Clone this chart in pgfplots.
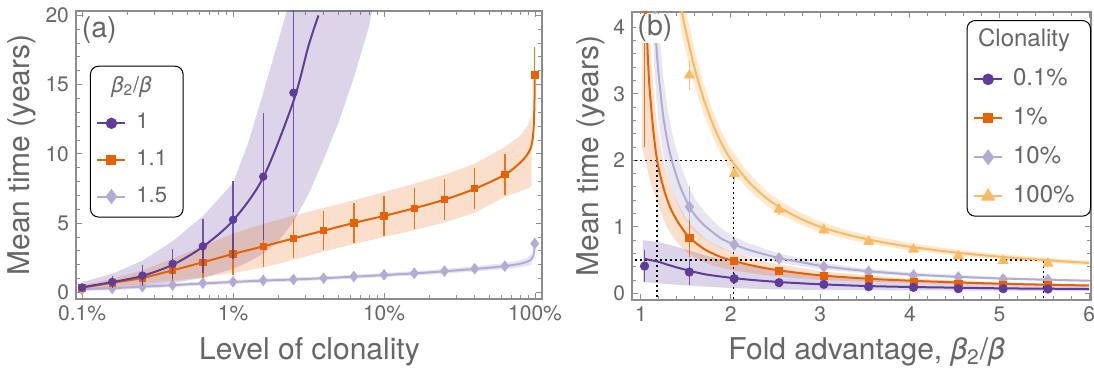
\documentclass[border=0pt]{standalone}
\usepackage{fontspec}
\setmainfont{TeX Gyre Heros}
\usepackage{pgfplots}
\pgfplotsset{compat=1.18}
\definecolor{cDP}{HTML}{5E3C99}
\definecolor{cO}{HTML}{E66101}
\definecolor{cLP}{HTML}{B2ABD2}
\definecolor{cLO}{HTML}{FDB863}
\definecolor{tgray}{gray}{0.4}
\definecolor{agray}{gray}{0.55}
\pgfplotsset{
  myaxis/.style={
    scale only axis, height=144pt,
    axis line style={agray, line width=0.6pt},
    tick style={agray, line width=0.5pt},
    major tick length=3.2pt, minor tick length=1.8pt,
    tick label style={font=\fontsize{10.5}{12}\selectfont, text=tgray},
    label style={font=\fontsize{15}{18}\selectfont, text=tgray},
    /pgf/number format/assume math mode=true,
    clip marker paths=true,
    legend cell align=left,
    legend image code/.code={\draw[mark repeat=2,mark phase=2,##1] plot coordinates {(0pt,0pt) (7pt,0pt) (14pt,0pt)};},
  },
  ebar/.style={error bars/.cd, y dir=both, y explicit, error mark=none, error bar style={line width=0.7pt, opacity=0.85}},
  guide/.style={forget plot, black, dash pattern=on 1pt off 1.5pt, line width=0.75pt},
}
\begin{document}
\begin{tikzpicture}
\path[use as bounding box] (-38pt,-35pt) rectangle (509pt,149.5pt);
% ================= LEFT PANEL =================
\begin{axis}[myaxis, at={(0pt,0pt)}, anchor=south west, width=233pt,
  xmode=log, xmin=0.000912, xmax=1.112, ymin=-0.47, ymax=20.32,
  xtick={0.001,0.01,0.1,1}, xticklabels={0.1\%,1\%,10\%,100\%},
  minor xtick={0.002,0.003,0.004,0.005,0.006,0.007,0.008,0.009,0.02,0.03,0.04,0.05,0.06,0.07,0.08,0.09,0.2,0.3,0.4,0.5,0.6,0.7,0.8,0.9},
  ytick={0,5,10,15,20}, minor ytick={1,2,3,4,6,7,8,9,11,12,13,14,16,17,18,19},
  xlabel={Level of clonality}, ylabel={Mean time (years)},
  xlabel style={at={(axis description cs:0.501,-0.184)}, anchor=center},
  ylabel style={at={(axis description cs:-0.116,0.5)}, anchor=center},
  legend style={at={(axis description cs:0.03,0.81)}, anchor=north west, draw=black, line width=0.5pt, rounded corners=4pt, fill=white, font=\fontsize{11}{13}\selectfont, text=tgray, row sep=7.8pt, inner xsep=3pt, inner ysep=5pt, nodes={inner xsep=5pt, inner ysep=0pt, text height=8pt, text depth=2.5pt}},
]
% purple band
\addplot[forget plot, fill=cDP, fill opacity=0.22, draw=none] coordinates {
(0.001,0.75) (0.001585,1.35) (0.002512,2.3) (0.003981,3.7) (0.00631,5.5) (0.01,7.9) (0.01259,10.8) (0.01585,14.4) (0.01995,18.2) (0.02512,22)
(0.0891,22) (0.07943,19.2) (0.0631,15.5) (0.05012,12.3) (0.03981,9.6) (0.03162,7.1) (0.02512,5.1) (0.01995,3.7) (0.01585,2.8) (0.01259,2.2) (0.01,1.7) (0.00631,1.05) (0.003981,0.7) (0.002512,0.45) (0.001585,0.25) (0.001,0.12)};
% orange band
\addplot[forget plot, fill=cO, fill opacity=0.2, draw=none] coordinates {
(0.001,0.5) (0.001585,1.0) (0.002512,1.6) (0.003981,2.45) (0.00631,3.35) (0.01,4.25) (0.01585,4.95) (0.02512,5.55) (0.03981,6.1) (0.0631,6.65) (0.1,7.25) (0.1585,7.85) (0.2512,8.5) (0.3981,9.3) (0.631,10.5) (0.7943,11.3) (0.8913,12.0) (0.95,12.8)
(0.95,7.7) (0.8913,7.5) (0.7943,7.3) (0.631,6.9) (0.3981,5.75) (0.2512,5.05) (0.1585,4.5) (0.1,4.0) (0.0631,3.5) (0.03981,2.95) (0.02512,2.35) (0.01585,1.8) (0.01,1.4) (0.00631,1.1) (0.003981,0.85) (0.002512,0.6) (0.001585,0.42) (0.001,0.2)};
% light purple band
\addplot[forget plot, fill=cLP, fill opacity=0.32, draw=none] coordinates {
(0.001,0.4) (0.001585,0.46) (0.002512,0.56) (0.003981,0.67) (0.00631,0.79) (0.01,0.9) (0.01585,1.0) (0.02512,1.08) (0.03981,1.17) (0.0631,1.28) (0.1,1.41) (0.1585,1.54) (0.2512,1.7) (0.3981,1.89) (0.631,2.12) (0.7943,2.32) (0.8913,2.5) (0.95,2.85)
(0.95,2.0) (0.8913,1.92) (0.7943,1.82) (0.631,1.68) (0.3981,1.51) (0.2512,1.36) (0.1585,1.22) (0.1,1.11) (0.0631,1.0) (0.03981,0.89) (0.02512,0.8) (0.01585,0.72) (0.01,0.62) (0.00631,0.51) (0.003981,0.39) (0.002512,0.28) (0.001585,0.17) (0.001,0.12)};
% lines
\addplot[forget plot, cLP, line width=1pt, smooth] coordinates {
(0.001,0.25) (0.001585,0.31) (0.002512,0.42) (0.003981,0.53) (0.00631,0.65) (0.01,0.76) (0.01585,0.86) (0.02512,0.94) (0.03981,1.03) (0.0631,1.14) (0.1,1.26) (0.1585,1.38) (0.2512,1.53) (0.3981,1.7) (0.631,1.9) (0.8,2.08) (0.9,2.25) (0.95,2.42) (0.975,2.65) (0.99,3.1) (0.995,3.5)};
\addplot[forget plot, cO, line width=1pt, smooth] coordinates {
(0.001,0.35) (0.001585,0.7) (0.002512,1.05) (0.003981,1.6) (0.00631,2.18) (0.01,2.78) (0.01585,3.33) (0.02512,3.9) (0.03981,4.46) (0.0631,5.02) (0.1,5.53) (0.1585,6.08) (0.2512,6.7) (0.3981,7.48) (0.631,8.5) (0.794,9.35) (0.88,9.9) (0.927,10.3) (0.955,10.8) (0.975,11.6) (0.985,12.6) (0.992,14.0) (0.995,15.7)};
\addplot[forget plot, cDP, line width=1pt, smooth] coordinates {
(0.001,0.38) (0.001585,0.75) (0.002512,1.2) (0.003981,2.0) (0.00631,3.3) (0.01,5.2) (0.01585,8.3) (0.02512,13.8) (0.0316,17.8) (0.0368,20)};
% markers with error bars
\addplot[forget plot, only marks, cLP, mark=diamond*, mark size=2.6pt, mark options={fill=cLP, draw=cLP}, ebar] coordinates {
(0.001,0.2) +- (0,0.05) (0.001585,0.3) +- (0,0.05) (0.002512,0.42) +- (0,0.06) (0.003981,0.54) +- (0,0.06) (0.00631,0.67) +- (0,0.07) (0.01,0.77) +- (0,0.07) (0.01585,0.87) +- (0,0.08) (0.02512,0.94) +- (0,0.08) (0.03981,1.03) +- (0,0.08) (0.0631,1.15) +- (0,0.08) (0.1,1.28) +- (0,0.08) (0.1585,1.39) +- (0,0.08) (0.2512,1.54) +- (0,0.09) (0.3981,1.71) +- (0,0.09) (0.631,1.9) +- (0,0.1) (0.995,3.53) +- (0,0.12)};
\addplot[forget plot, only marks, cO, mark=square*, mark size=1.6pt, mark options={fill=cO, draw=cO}, ebar] coordinates {
(0.001,0.33) +- (0,0.05) (0.001585,0.70) +- (0,0.2) (0.002512,1.03) +- (0,0.4) (0.003981,1.61) +- (0,0.75) (0.00631,2.18) +- (0,1.1) (0.01,2.79) +- (0,1.5) (0.01585,3.34) +- (0,1.5) (0.02512,3.91) +- (0,1.4) (0.03981,4.47) +- (0,1.4) (0.0631,5.03) +- (0,1.45) (0.1,5.53) +- (0,1.45) (0.1585,6.08) +- (0,1.47) (0.2512,6.71) +- (0,1.46) (0.3981,7.5) +- (0,1.47) (0.631,8.53) +- (0,1.47) (0.995,15.7) +- (0,2.0)};
\addplot[forget plot, only marks, cDP, mark=*, mark size=1.9pt, mark options={fill=cDP, draw=cDP}, ebar] coordinates {
(0.001,0.36) +- (0,0.05) (0.001585,0.76) +- (0,0.45) (0.002512,1.22) +- (0,0.75) (0.003981,2.07) +- (0,1.1) (0.00631,3.34) +- (0,1.95) (0.01,5.25) +- (0,2.8) (0.01585,8.36) +- (0,4.6) (0.02512,14.42) +- (0,8.6)};
% legend
\addlegendimage{empty legend}\addlegendentry{\hspace{-12.5pt}\textit{β}\textsubscript{2}/\textit{β}}
\addlegendimage{cDP, line width=1pt, mark=*, mark size=2.3pt, mark options={fill=cDP, draw=cDP}}\addlegendentry{1}
\addlegendimage{cO, line width=1pt, mark=square*, mark size=2pt, mark options={fill=cO, draw=cO}}\addlegendentry{1.1}
\addlegendimage{cLP, line width=1pt, mark=diamond*, mark size=3pt, mark options={fill=cLP, draw=cLP}}\addlegendentry{1.5}
\node[font=\fontsize{14.3}{16}\selectfont, text=tgray, anchor=center] at (axis description cs:0.05,0.934) {(a)};
\end{axis}
% ================= RIGHT PANEL =================
\begin{axis}[myaxis, at={(278pt,-0.5pt)}, anchor=south west, width=229.5pt,
  xmin=0.9, xmax=6.02, ymin=-0.1, ymax=4.23,
  xtick={1,2,3,4,5,6}, ytick={0,1,2,3,4}, minor x tick num=4, minor y tick num=4,
  xlabel={Fold advantage, \textit{β}\textsubscript{2}/\textit{β}}, ylabel={Mean time (years)},
  xlabel style={at={(axis description cs:0.511,-0.182)}, anchor=center},
  ylabel style={at={(axis description cs:-0.089,0.5)}, anchor=center},
  legend style={at={(axis description cs:1.0,0.972)}, anchor=north east, draw=black, line width=0.5pt, rounded corners=4pt, fill=white, font=\fontsize{12}{14}\selectfont, text=tgray, row sep=8.1pt, inner xsep=3pt, inner ysep=4.2pt, nodes={inner xsep=5pt, inner ysep=0pt, text height=8.7pt, text depth=2.7pt}},
]
% bands
\addplot[forget plot, fill=cDP, fill opacity=0.22, draw=none] coordinates {
(1.02,0.8) (1.2,0.77) (1.4,0.7) (1.6,0.62) (1.8,0.54) (2.0,0.48) (2.2,0.44) (2.5,0.36) (3,0.27) (3.5,0.21) (4,0.17) (5,0.13) (6,0.11)
(6,0.035) (5,0.04) (4,0.045) (3,0.05) (2.5,0.06) (2.0,0.08) (1.6,0.11) (1.3,0.14) (1.02,0.17)};
\addplot[forget plot, fill=cO, fill opacity=0.2, draw=none] coordinates {
(1.01,4.4) (1.05,4.4) (1.09,4.03) (1.12,3.4) (1.15,2.9) (1.18,2.52) (1.22,2.2) (1.27,1.89) (1.33,1.61) (1.4,1.39) (1.5,1.13) (1.6,0.97) (1.7,0.84) (1.8,0.75) (2.0,0.63) (2.4,0.47) (3.0,0.33) (4.0,0.22) (5.0,0.165) (6.0,0.135)
(6.0,0.1) (5.0,0.125) (4.0,0.155) (3.0,0.2) (2.4,0.27) (2.0,0.35) (1.8,0.42) (1.7,0.47) (1.6,0.54) (1.5,0.63) (1.4,0.77) (1.33,0.9) (1.27,1.05) (1.22,1.22) (1.18,1.38) (1.15,1.5) (1.12,1.6) (1.09,1.75) (1.05,2.0) (1.01,2.2)};
\addplot[forget plot, fill=cLP, fill opacity=0.3, draw=none] coordinates {
(1.12,4.4) (1.175,4.4) (1.2,4.0) (1.25,3.25) (1.3,2.75) (1.35,2.4) (1.4,2.13) (1.45,1.9) (1.54,1.58) (1.6,1.43) (1.7,1.24) (1.8,1.1) (1.9,0.97) (2.03,0.86) (2.2,0.75) (2.54,0.6) (3.02,0.46) (3.52,0.37) (4.0,0.315) (5.0,0.245) (6.0,0.205)
(6.0,0.175) (5.0,0.205) (4.0,0.255) (3.52,0.3) (3.02,0.36) (2.54,0.46) (2.2,0.56) (2.03,0.62) (1.9,0.67) (1.8,0.74) (1.7,0.82) (1.6,0.93) (1.54,1.02) (1.45,1.22) (1.4,1.37) (1.35,1.54) (1.3,1.76) (1.25,2.07) (1.2,2.55) (1.17,2.95) (1.15,3.4)};
\addplot[forget plot, fill=cLO, fill opacity=0.3, draw=none] coordinates {
(1.41,4.4) (1.48,4.4) (1.5,4.27) (1.6,3.65) (1.7,3.15) (1.8,2.75) (1.9,2.43) (2.0,2.18) (2.2,1.81) (2.4,1.54) (2.6,1.35) (2.8,1.2) (3.0,1.08) (3.25,0.97) (3.5,0.885) (4.0,0.755) (4.5,0.66) (5.0,0.59) (5.5,0.535) (6.0,0.49)
(6.0,0.42) (5.5,0.465) (5.0,0.51) (4.5,0.57) (4.0,0.645) (3.5,0.755) (3.25,0.83) (3.0,0.92) (2.8,1.02) (2.6,1.15) (2.4,1.32) (2.2,1.55) (2.0,1.86) (1.9,2.07) (1.8,2.35) (1.7,2.69) (1.6,3.11) (1.5,3.63) (1.45,3.91)};
% dotted guides
\addplot[guide] coordinates {(0.93,2) (2.03,2) (2.03,-0.2)};
\addplot[guide] coordinates {(1.18,-0.2) (1.18,2)};
\addplot[guide] coordinates {(0.93,0.5) (5.49,0.5) (5.49,-0.2)};
% lines
\addplot[forget plot, cLO, line width=1pt, smooth] coordinates {
(1.44,4.35) (1.5,3.95) (1.6,3.38) (1.7,2.92) (1.8,2.55) (1.9,2.25) (2.0,2.02) (2.2,1.68) (2.4,1.43) (2.6,1.25) (2.8,1.11) (3.0,1.0) (3.25,0.9) (3.5,0.82) (3.75,0.755) (4.0,0.7) (4.5,0.615) (5.0,0.55) (5.5,0.5) (6.0,0.455)};
\addplot[forget plot, cLP, line width=1pt, smooth] coordinates {
(1.145,4.35) (1.15,4.25) (1.17,3.75) (1.2,3.25) (1.25,2.65) (1.3,2.25) (1.35,1.97) (1.4,1.75) (1.45,1.56) (1.54,1.3) (1.6,1.18) (1.7,1.03) (1.8,0.92) (1.9,0.82) (2.03,0.74) (2.2,0.655) (2.4,0.58) (2.54,0.53) (2.8,0.465) (3.02,0.41) (3.3,0.365) (3.52,0.335) (4.0,0.285) (4.5,0.25) (5.0,0.225) (5.5,0.205) (6.0,0.19)};
\addplot[forget plot, cO, line width=1pt, smooth] coordinates {
(1.052,4.35) (1.055,4.25) (1.07,3.75) (1.09,3.2) (1.12,2.7) (1.15,2.3) (1.18,2.0) (1.22,1.75) (1.27,1.5) (1.33,1.28) (1.4,1.1) (1.5,0.9) (1.6,0.77) (1.7,0.67) (1.8,0.6) (1.9,0.54) (2.03,0.49) (2.2,0.43) (2.4,0.375) (2.6,0.335) (2.8,0.3) (3.0,0.27) (3.3,0.24) (3.6,0.215) (4.0,0.19) (4.5,0.165) (5.0,0.145) (5.5,0.13) (6.0,0.118)};
\addplot[forget plot, cDP, line width=1pt, smooth] coordinates {
(1.045,0.52) (1.1,0.5) (1.18,0.48) (1.3,0.43) (1.4,0.39) (1.54,0.34) (1.7,0.29) (1.85,0.26) (2.03,0.23) (2.25,0.2) (2.54,0.17) (2.8,0.15) (3.02,0.135) (3.52,0.11) (4.03,0.095) (4.53,0.085) (5.03,0.075) (5.53,0.07) (6.0,0.065)};
% markers
\addplot[forget plot, only marks, cLO, mark=triangle*, mark size=2.8pt, mark options={fill=cLO, draw=cLO}, ebar] coordinates {
(1.54,3.28) +- (0,0.22) (2.04,1.8) +- (0,0.12) (2.54,1.26) +- (0,0.08) (3.04,0.95) +- (0,0.06) (3.54,0.775) +- (0,0.05) (4.04,0.66) +- (0,0.04) (4.54,0.56) +- (0,0.04) (5.04,0.49) +- (0,0.03) (5.54,0.45) +- (0,0.03)};
\addplot[forget plot, only marks, cLP, mark=diamond*, mark size=2.8pt, mark options={fill=cLP, draw=cLP}, ebar] coordinates {
(1.54,1.3) +- (0,0.32) (2.04,0.735) +- (0,0.06) (2.54,0.525) +- (0,0.04) (3.04,0.4) +- (0,0.03) (3.54,0.325) +- (0,0.03) (4.04,0.27) +- (0,0.02) (4.54,0.24) +- (0,0.02) (5.04,0.21) +- (0,0.02) (5.54,0.2) +- (0,0.02)};
\addplot[forget plot, only marks, cO, mark=square*, mark size=1.8pt, mark options={fill=cO, draw=cO}, ebar] coordinates {
(1.04,5.5) +- (0,3.3) (1.54,0.83) +- (0,0.28) (2.04,0.485) +- (0,0.06) (2.54,0.34) +- (0,0.04) (3.04,0.26) +- (0,0.03) (3.54,0.21) +- (0,0.02) (4.04,0.175) +- (0,0.02) (4.54,0.145) +- (0,0.02) (5.04,0.13) +- (0,0.02) (5.54,0.12) +- (0,0.02)};
\addplot[forget plot, only marks, cDP, mark=*, mark size=2.1pt, mark options={fill=cDP, draw=cDP}, ebar] coordinates {
(1.04,0.41) +- (0,0.24) (1.54,0.32) +- (0,0.2) (2.04,0.22) +- (0,0.08) (2.54,0.16) +- (0,0.05) (3.04,0.135) +- (0,0.04) (3.54,0.1) +- (0,0.03) (4.04,0.09) +- (0,0.03) (4.54,0.07) +- (0,0.02) (5.04,0.07) +- (0,0.02) (5.54,0.065) +- (0,0.02)};
% legend
\addlegendimage{empty legend}\addlegendentry{\hspace{-17.5pt}Clonality}
\addlegendimage{cDP, line width=1pt, mark=*, mark size=2.4pt, mark options={fill=cDP, draw=cDP}}\addlegendentry{0.1\%}
\addlegendimage{cO, line width=1pt, mark=square*, mark size=2pt, mark options={fill=cO, draw=cO}}\addlegendentry{1\%}
\addlegendimage{cLP, line width=1pt, mark=diamond*, mark size=3.2pt, mark options={fill=cLP, draw=cLP}}\addlegendentry{10\%}
\addlegendimage{cLO, line width=1pt, mark=triangle*, mark size=3.2pt, mark options={fill=cLO, draw=cLO}}\addlegendentry{100\%}
\node[font=\fontsize{14.3}{16}\selectfont, text=tgray, fill=white, inner sep=0.5pt, anchor=center] at (axis description cs:0.05,0.944) {(b)};
\end{axis}
\end{tikzpicture}
\end{document}
